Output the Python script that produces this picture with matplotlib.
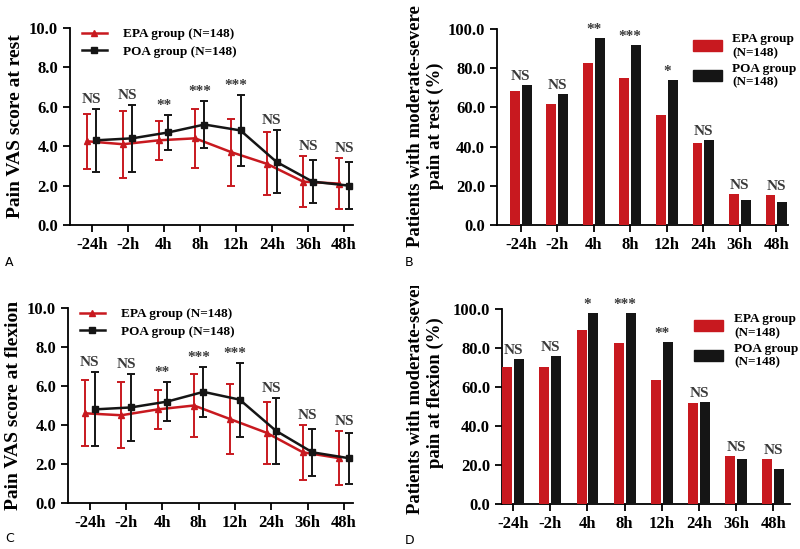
import numpy as np
import matplotlib.pyplot as plt
from matplotlib.lines import Line2D
from matplotlib.patches import Patch
from matplotlib.transforms import Bbox, TransformedBbox

plt.rcParams['font.family'] = ['Liberation Serif', 'DejaVu Serif']
plt.rcParams['font.weight'] = 'bold'

# ---------- data ----------
times = ["-24h", "-2h", "4h", "8h", "12h", "24h", "36h", "48h"]

# A: VAS at rest (mean, sd)
rest_epa = [4.25, 4.1, 4.3, 4.4, 3.7, 3.1, 2.2, 2.1]
rest_epa_sd = [1.4, 1.7, 1.0, 1.5, 1.7, 1.6, 1.3, 1.3]
rest_poa = [4.3, 4.4, 4.7, 5.1, 4.8, 3.2, 2.2, 2.0]
rest_poa_sd = [1.6, 1.7, 0.9, 1.2, 1.8, 1.6, 1.1, 1.2]
rest_sig = ["NS", "NS", "**", "***", "***", "NS", "NS", "NS"]

# C: VAS at flexion
flex_epa = [4.6, 4.5, 4.8, 5.0, 4.3, 3.6, 2.6, 2.3]
flex_epa_sd = [1.7, 1.7, 1.0, 1.6, 1.8, 1.6, 1.4, 1.4]
flex_poa = [4.8, 4.9, 5.2, 5.7, 5.3, 3.7, 2.6, 2.3]
flex_poa_sd = [1.9, 1.7, 1.0, 1.3, 1.9, 1.7, 1.2, 1.3]
flex_sig = ["NS", "NS", "**", "***", "***", "NS", "NS", "NS"]

# B: % moderate-severe pain at rest
pct_rest_epa = [68.5, 61.5, 82.5, 75.0, 56.0, 42.0, 16.0, 15.5]
pct_rest_poa = [71.5, 67.0, 95.2, 91.8, 73.8, 43.3, 12.8, 11.5]
pct_rest_sig = ["NS", "NS", "**", "***", "*", "NS", "NS", "NS"]

# D: % moderate-severe pain at flexion
pct_flex_epa = [70.3, 70.3, 89.2, 82.5, 63.4, 52.0, 24.8, 22.9]
pct_flex_poa = [74.2, 75.9, 97.8, 97.8, 83.0, 52.5, 22.9, 18.1]
pct_flex_sig = ["NS", "NS", "*", "***", "**", "NS", "NS", "NS"]

RED = "#c8191f"
BLACK = "#151515"
SIGC = "#3a3a3a"

W, H = 800, 549
fig = plt.figure(figsize=(W / 100, H / 100), dpi=100)


def px_axes(l, t, r, b):
    return fig.add_axes([l / W, 1 - b / H, (r - l) / W, (b - t) / H])


def style_axes(ax, ymax, step):
    for s in ["top", "right"]:
        ax.spines[s].set_visible(False)
    for s in ["left", "bottom"]:
        ax.spines[s].set_linewidth(1.3)
    ax.set_ylim(0, ymax)
    yt = np.arange(0, ymax + 0.001, step)
    ax.set_yticks(yt)
    ax.set_yticklabels([f"{v:.1f}" for v in yt], fontsize=12, fontweight="bold")
    ax.set_xticks(range(len(times)))
    ax.set_xticklabels(times, fontsize=12, fontweight="bold")
    ax.tick_params(width=1.3, length=5)


def line_panel(ax, epa, epa_sd, poa, poa_sd, sig, ylabel):
    x = np.arange(len(times))
    off = 0.13
    ax.errorbar(x - off, epa, yerr=epa_sd, color=RED, marker="^", ms=4,
                lw=1.8, elinewidth=1.4, capsize=3, capthick=1.4, zorder=3)
    ax.errorbar(x + off, poa, yerr=poa_sd, color=BLACK, marker="s", ms=5,
                lw=1.8, elinewidth=1.4, capsize=3, capthick=1.4, zorder=4)
    for i, s in enumerate(sig):
        top = max(epa[i] + epa_sd[i], poa[i] + poa_sd[i])
        ax.text(i, top + 0.15, s, ha="center", va="bottom", fontsize=11,
                fontweight="bold", color=SIGC)
    ax.set_xlim(-0.6, 7.25)
    style_axes(ax, 10, 2)
    ax.set_ylabel(ylabel, fontsize=14, fontweight="bold")
    handles = [Line2D([], [], color=RED, marker="^", ms=4, lw=1.8),
               Line2D([], [], color=BLACK, marker="s", ms=5, lw=1.8)]
    ax.legend(handles, ["EPA group (N=148)", "POA group (N=148)"],
              loc="upper left", bbox_to_anchor=(0.0, 1.06), frameon=False,
              prop={"size": 9.5, "weight": "bold"}, handlelength=1.9,
              handletextpad=1.2, labelspacing=0.4)


def bar_panel(ax, epa, poa, sig, ylabel, xlim, label_y, clip_top):
    x = np.arange(len(times))
    w = 0.27
    ax.bar(x - 0.16, epa, w, color=RED, zorder=3)
    ax.bar(x + 0.16, poa, w, color=BLACK, zorder=3)
    for i, s in enumerate(sig):
        top = max(epa[i], poa[i])
        ax.text(i, top + 1.0, s, ha="center", va="bottom", fontsize=11,
                fontweight="bold", color=SIGC)
    ax.set_xlim(*xlim)
    style_axes(ax, 100, 20)
    # two-line y label; its top end is cut off like in the original panels
    t = fig.text(425.5 / W, 1 - label_y / H, ylabel, rotation=90,
                 ha="center", va="center", multialignment="center",
                 fontsize=13.5, fontweight="bold", linespacing=1.25)
    t.set_clip_box(TransformedBbox(Bbox.from_extents(0, 0, 1, 1 - clip_top / H),
                                   fig.transFigure))
    t.set_clip_on(True)
    handles = [Patch(color=RED), Patch(color=BLACK)]
    ax.legend(handles, ["EPA group\n(N=148)", "POA group\n(N=148)"],
              loc="upper right", bbox_to_anchor=(1.07, 1.04), frameon=False,
              prop={"size": 9.5, "weight": "bold"}, handlelength=2.2,
              handleheight=0.9, labelspacing=0.3)


axA = px_axes(70, 28, 353, 225)
line_panel(axA, rest_epa, rest_epa_sd, rest_poa, rest_poa_sd, rest_sig,
           "Pain VAS score at rest")

axC = px_axes(68, 308, 353, 503)
line_panel(axC, flex_epa, flex_epa_sd, flex_poa, flex_poa_sd, flex_sig,
           "Pain VAS score at flexion")

axB = px_axes(497, 29, 788, 225)
bar_panel(axB, pct_rest_epa, pct_rest_poa, pct_rest_sig,
          "Patients with moderate-severe\npain at rest (%)", (-0.65, 7.32),
          126, 0)

axD = px_axes(502, 309, 790, 504)
bar_panel(axD, pct_flex_epa, pct_flex_poa, pct_flex_sig,
          "Patients with moderate-severe\npain at flexion (%)", (-0.3, 7.45),
          393, 286)

for lab, (xp, yp) in zip("ABCD", [(5, 262), (405, 262), (5, 538), (405, 540)]):
    fig.text(xp / W, 1 - yp / H, lab, family="DejaVu Sans", fontweight="normal",
             fontsize=9, va="center", ha="left")

fig.savefig("out.png", dpi=100)
